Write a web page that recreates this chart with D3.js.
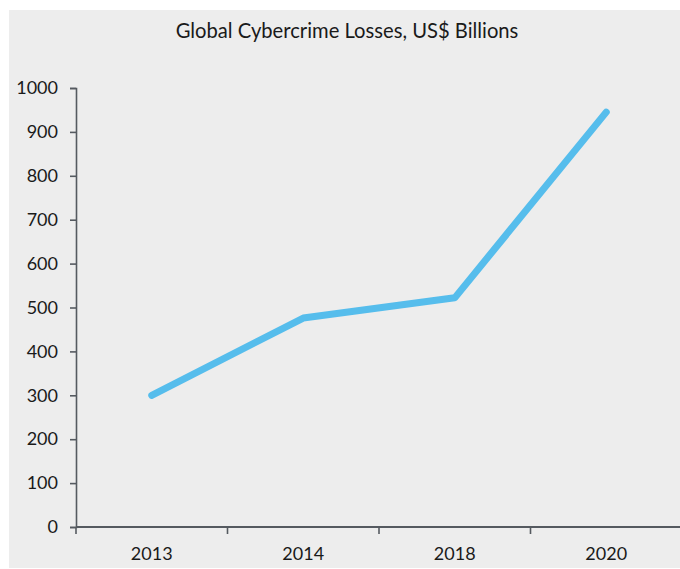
<!DOCTYPE html>
<html>
<head>
<meta charset="utf-8">
<script src="https://cdn.jsdelivr.net/npm/d3@7/dist/d3.min.js"></script>
<style>
  html, body { margin: 0; padding: 0; background: #ffffff; }
  svg { display: block; }
  text { font-family: Lato, "Open Sans", sans-serif; fill: #1a1a1a; }
</style>
</head>
<body>
<svg id="chart" width="680" height="569"></svg>
<script>
// Global cybercrime losses, US$ billions
const years = ["2013", "2014", "2018", "2020"];
const losses = [300, 476, 522, 945];
const yTicks = [0, 100, 200, 300, 400, 500, 600, 700, 800, 900, 1000];
const title = "Global Cybercrime Losses, US$ Billions";

const W = 680, H = 569;
const svg = d3.select("#chart");

// panel background
svg.append("rect")
  .attr("x", 9).attr("y", 10)
  .attr("width", W - 9).attr("height", H - 11)
  .attr("fill", "#ededed");

svg.append("text")
  .attr("x", 347).attr("y", 38)
  .attr("text-anchor", "middle")
  .style("font-family", "Lato, sans-serif")
  .style("font-size", "20.2px")
  .text(title);

const plot = { left: 76, right: 682, top: 88, bottom: 527 };

const x = d3.scaleBand().domain(years).range([plot.left, plot.right]);
const y = d3.scaleLinear().domain([0, 1000]).range([plot.bottom, plot.top]);

const axisColor = "#555a60";

// y axis
const gy = svg.append("g")
  .attr("transform", `translate(${plot.left},0)`)
  .call(d3.axisLeft(y).tickValues(yTicks).tickSize(6).tickPadding(12).tickFormat(d3.format("d")));
gy.selectAll("path, line").attr("stroke", axisColor).attr("stroke-width", 1.6);
gy.selectAll("text").style("font-size", "18px").attr("fill", "#1a1a1a").style("font-family", "Lato, sans-serif");

// x axis: ticks at band boundaries
const gx = svg.append("g")
  .attr("transform", `translate(0,${plot.bottom})`);
gx.append("line")
  .attr("x1", plot.left).attr("x2", plot.right)
  .attr("y1", 0).attr("y2", 0)
  .attr("stroke", axisColor).attr("stroke-width", 2);
gx.selectAll("line.tick")
  .data(years)
  .enter().append("line")
  .attr("class", "tick")
  .attr("x1", d => x(d)).attr("x2", d => x(d))
  .attr("y1", 0).attr("y2", 7)
  .attr("stroke", axisColor).attr("stroke-width", 1.6);
gx.selectAll("text")
  .data(years)
  .enter().append("text")
  .attr("x", d => x(d) + x.bandwidth() / 2)
  .attr("y", 33)
  .attr("text-anchor", "middle")
  .style("font-size", "18px")
  .text(d => d);

// series line
const line = d3.line()
  .x((d, i) => x(years[i]) + x.bandwidth() / 2)
  .y(d => y(d));

svg.append("path")
  .datum(losses)
  .attr("d", line)
  .attr("fill", "none")
  .attr("stroke", "#56bdec")
  .attr("stroke-width", 7)
  .attr("stroke-linecap", "round")
  .attr("stroke-linejoin", "round");
</script>
</body>
</html>
